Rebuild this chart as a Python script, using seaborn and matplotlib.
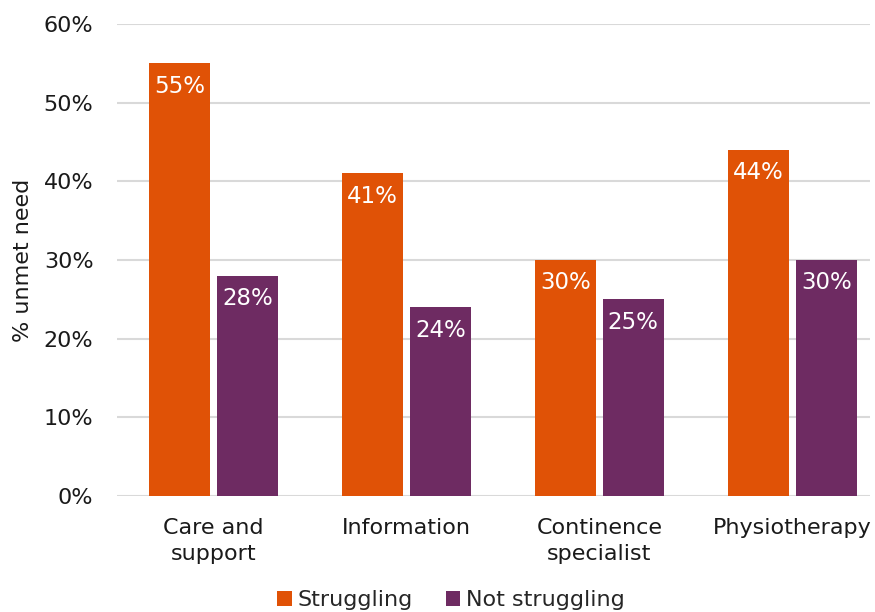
import matplotlib
matplotlib.use("Agg")
import matplotlib.pyplot as plt
import seaborn as sns
import pandas as pd
from matplotlib.patches import Patch

categories = ["Care and\nsupport", "Information", "Continence\nspecialist", "Physiotherapy"]
groups = ["Struggling", "Not struggling"]
struggling = [55, 41, 30, 44]
not_struggling = [28, 24, 25, 30]
yticks = [0, 10, 20, 30, 40, 50, 60]

colors = {"Struggling": "#E05206", "Not struggling": "#6E2B62"}

df = pd.DataFrame({
    "category": categories * 2,
    "group": [groups[0]] * 4 + [groups[1]] * 4,
    "value": struggling + not_struggling,
})

sns.set_theme(style="white")
plt.rcParams["font.family"] = ["DejaVu Sans"]

fig = plt.figure(figsize=(8.75, 6.12), dpi=100)
ax = fig.add_axes([117 / 875, 116 / 612, 753 / 875, 472 / 612])

sns.barplot(data=df, x="category", y="value", hue="group", palette=colors,
            hue_order=groups, order=categories, width=0.70, gap=0.09,
            saturation=1, linewidth=0, ax=ax, legend=False, errorbar=None)

for cont in ax.containers:
    for bar in cont:
        h = bar.get_height()
        ax.annotate(f"{h:.0f}%", (bar.get_x() + bar.get_width() / 2, h),
                    xytext=(0, -16.5), textcoords="offset points",
                    ha="center", va="center", color="white", fontsize=16.5)

ax.set_xlim(-0.5, -0.5 + 753 / 193)
ax.set_ylim(0, 60)
ax.set_yticks(yticks)
ax.set_yticklabels([f"{t}%" for t in yticks], fontsize=16, color="#1a1a1a")
ax.tick_params(axis="y", length=0, pad=17)
ax.tick_params(axis="x", length=0, pad=16, labelsize=16, labelcolor="#1a1a1a")
for lbl in ax.get_xticklabels():
    lbl.set_linespacing(1.35)
ax.set_xlabel("")
ax.set_ylabel("% unmet need", fontsize=16, color="#1a1a1a", labelpad=8)

ax.yaxis.grid(True, color="#D9D9D9", linewidth=1.5)
ax.set_axisbelow(True)
for side in ["top", "right", "left", "bottom"]:
    ax.spines[side].set_visible(False)

handles = [Patch(facecolor=colors[g], edgecolor="none", label=g) for g in groups]
fig.legend(handles=handles, loc="center", bbox_to_anchor=(451 / 875, 1 - 600 / 612),
           ncol=2, frameon=False, fontsize=16, handlelength=0.65, handleheight=0.65,
           handletextpad=0.25, columnspacing=1.5, borderaxespad=0, borderpad=0)

fig.savefig("out.png", dpi=100)
